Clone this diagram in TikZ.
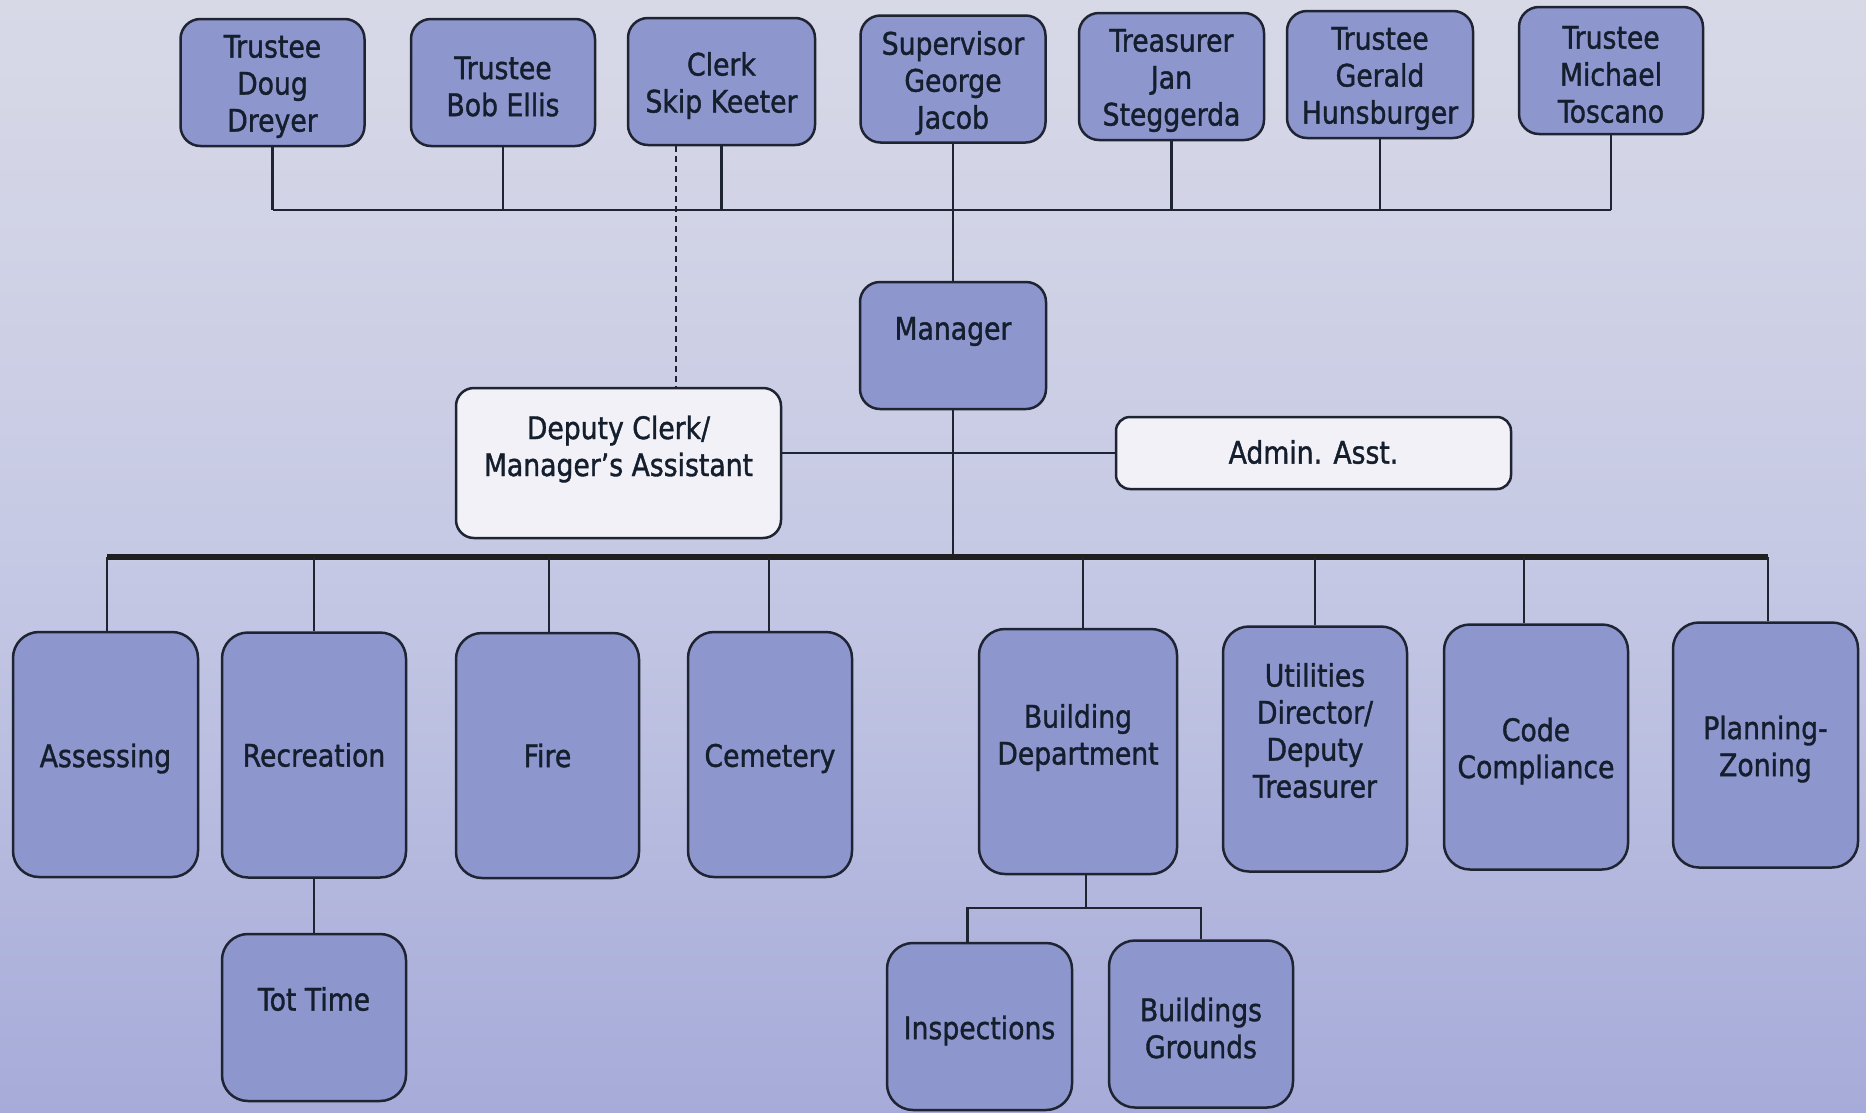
\documentclass[tikz,border=0pt]{standalone}
\usepackage{fontspec}
\setmainfont[FakeStretch=0.86,FakeBold=1.2]{DejaVu Sans}
\definecolor{boxfill}{RGB}{142,150,206}
\definecolor{boxline}{RGB}{30,36,50}
\definecolor{ink}{RGB}{20,30,45}
\definecolor{bgtop}{RGB}{216,217,231}
\definecolor{bgmid}{RGB}{198,201,228}
\definecolor{bgbot}{RGB}{166,171,217}
\definecolor{palefill}{RGB}{241,241,247}
\begin{document}
\begin{tikzpicture}[x=1pt,y=-1pt,
  txtfont/.style={text=ink,align=center,font=\fontsize{31}{37}\selectfont},
  box/.style={draw=boxline, line width=2.5pt, fill=boxfill, inner sep=0pt},
  topbox/.style={box, minimum width=184pt, minimum height=127pt, rounded corners=20pt},
  lowbox/.style={box, minimum width=185pt, minimum height=245pt, rounded corners=26pt},
  subbox/.style={box, minimum width=184pt, minimum height=167pt, rounded corners=26pt},
  palebox/.style={box, fill=palefill, rounded corners=18pt},
  t/.style={label={[txtfont,yshift=-4pt]center:#1}},
  tup/.style={label={[txtfont,yshift=0pt]center:#1}},
  raised/.style={label={[txtfont,yshift=14pt]center:#1}},
  raisedmore/.style={label={[txtfont,yshift=18.5pt]center:#1}},
  link/.style={draw=boxline, line width=2.5pt},
  busline/.style={draw=black!88, line width=5.5pt},
  dashlink/.style={link, line width=2pt, dash pattern=on 6pt off 4pt}
]
% background
\fill[top color=bgtop, bottom color=bgbot, middle color=bgmid] (0,0) rectangle (1866,1112);
\useasboundingbox (0,0) rectangle (1866,1112);

% helper coordinates for buses
\coordinate (topbus) at (0,210);
\coordinate (lowbus) at (0,557);
\coordinate (subbus) at (0,908);

% top row
\node[topbox, t={Trustee\\Doug\\Dreyer}] (doug) at (272.5,82.5) {};
\node[topbox, t={Trustee\\Bob Ellis}] (bob) at (503,82.5) {};
\node[topbox, minimum width=187pt, t={Clerk\\Skip Keeter}] (clerk) at (721.5,81.5) {};
\node[topbox, minimum width=185pt, t={Supervisor\\George\\Jacob}] (sup) at (953,79) {};
\node[topbox, minimum width=185pt, t={Treasurer\\Jan\\Steggerda}] (treas) at (1171.5,76.5) {};
\node[topbox, minimum width=186pt, t={Trustee\\Gerald\\Hunsburger}] (gerald) at (1380,74.5) {};
\node[topbox, t={Trustee\\Michael\\Toscano}] (michael) at (1611,70.5) {};

% manager and staff
\node[topbox, minimum width=186pt, raised=Manager] (mgr) at (953,345.5) {};
\node[palebox, minimum width=325pt, minimum height=150pt, raised={Deputy Clerk/\\Manager’s Assistant}] (deputy) at (618.5,463) {};
\node[palebox, minimum width=395pt, minimum height=72pt, rounded corners=14pt, label={[txtfont,yshift=1pt]center:Admin. Asst.}] (admin) at (1313.5,453) {};

% departments
\node[lowbox, t=Assessing] (assess) at (105.5,754.5) {};
\node[lowbox, minimum width=184pt, tup=Recreation] (rec) at (314,755) {};
\node[lowbox, minimum width=183pt, tup=Fire] (fire) at (547.5,755.5) {};
\node[lowbox, minimum width=164pt, t=Cemetery] (cem) at (770,754.5) {};
\node[lowbox, minimum width=198pt, raised={Building\\Department}] (bld) at (1078,751.5) {};
\node[lowbox, minimum width=184pt, raisedmore={Utilities\\Director/\\Deputy\\Treasurer}] (util) at (1315,749) {};
\node[lowbox, minimum width=184pt, t={Code\\Compliance}] (code) at (1536,747) {};
\node[lowbox, t={Planning-\\Zoning}] (plan) at (1765.5,745) {};

% sub units
\node[subbox, raisedmore={Tot Time}] (tot) at (314,1017.5) {};
\node[subbox, minimum width=185pt, t=Inspections] (insp) at (979.5,1026.5) {};
\node[subbox, t={Buildings\\Grounds}] (bg) at (1201,1024) {};

% top connectors
\draw[link] (doug.south |- topbus) -- (michael.south |- topbus);
\foreach \n in {doug,bob,clerk,treas,gerald,michael}
  \draw[link] (\n.south) -- (\n.south |- topbus);
\draw[link] (sup.south) -- (mgr.north);
\draw[dashlink] ([xshift=-45.5pt]clerk.south) -- ([xshift=-45.5pt]clerk.south |- deputy.north);

% manager connectors
\draw[link] (deputy.east |- admin.west) -- (admin.west);
\draw[link] (mgr.south) -- (mgr.south |- lowbus);

% lower bus
\draw[busline] ([xshift=1.5pt]assess.north |- lowbus) -- ([xshift=2.5pt]plan.north |- lowbus);
\foreach \n/\dx in {assess/1.5,rec/0,fire/1.5,cem/-1,bld/5,util/0,code/-12,plan/2.5}
  \draw[link] ([xshift=\dx pt]\n.north) -- ([xshift=\dx pt]\n.north |- lowbus);

% sub connectors
\draw[link] (rec.south) -- (tot.north);
\draw[link] ([xshift=8pt]bld.south) -- ([xshift=8pt]bld.south |- subbus);
\draw[link] ([xshift=-12pt]insp.north) |- (bg.north |- subbus) -- (bg.north);
\end{tikzpicture}
\end{document}
